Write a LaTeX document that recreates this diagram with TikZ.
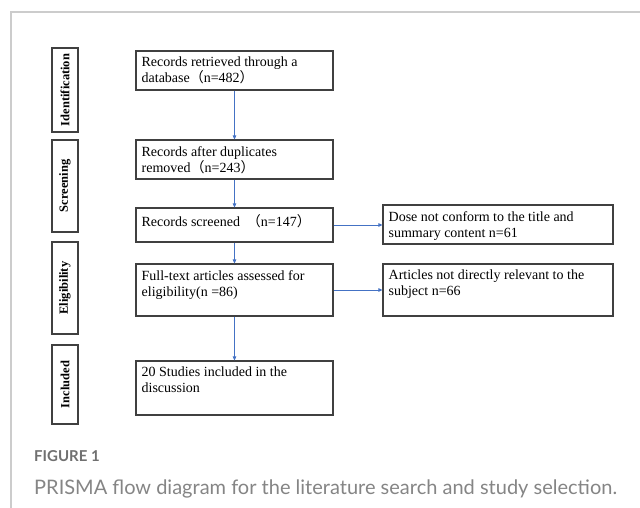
\documentclass[tikz,border=0pt]{standalone}
\usepackage{fontspec}
\setmainfont{Liberation Serif}
\newfontfamily\cjk{Noto Sans CJK SC}
\newfontfamily\capfont{Lato}
\usetikzlibrary{arrows.meta}
\definecolor{framegray}{HTML}{CCCCCC}
\definecolor{boxgray}{HTML}{404040}
\definecolor{arrowblue}{HTML}{4472C4}
\definecolor{figgray}{HTML}{707070}
\definecolor{capgray}{HTML}{858585}
\newcommand{\lp}{{\cjk （}}
\newcommand{\rp}{{\cjk ）}}
\begin{document}
\begin{tikzpicture}[x=1pt,y=-1pt,
  box/.style={draw=boxgray, line width=1.1pt, minimum width=197pt, inner sep=0pt},
  rbox/.style={box, minimum width=230pt},
  side/.style={draw=boxgray, line width=1.1pt, minimum width=26pt, inner sep=0pt},
  sidetxt/.style={rotate=90, font=\bfseries\fontsize{12.5}{14}\selectfont, inner sep=0pt},
  txt/.style={anchor=north west, inner sep=0pt, align=left, font=\fontsize{14}{16}\selectfont},
  arr/.style={draw=arrowblue, line width=0.8pt, -{Triangle[length=4pt,width=3.5pt]}}
]
\useasboundingbox (0,0) rectangle (640,508);
\fill[white] (0,0) rectangle (640,508);
% frame
\draw[framegray, line width=1.3pt] (11,508) -- (11,12) -- (640,12);

% side boxes
\node[side, minimum height=84pt] (s1) at (65,90) {};
\node[side, minimum height=92pt] (s2) at (65,186) {};
\node[side, minimum height=92pt] (s3) at (65,288) {};
\node[side, minimum height=79pt] (s4) at (65,384.5) {};
\node[sidetxt] (s1t) at (s1.center) {Identification};
\node[sidetxt] (s2t) at (s2.center) {Screening};
\node[sidetxt] (s3t) at (s3.center) {Eligibility};
\node[sidetxt] (s4t) at (s4.center) {Included};

% main boxes
\node[box, minimum height=39pt] (b1) at (234.5,70.5) {};
\node[box, minimum height=39pt] (b2) at (234.5,159.5) {};
\node[box, minimum height=34pt] (b3) at (234.5,225) {};
\node[box, minimum height=52pt] (b4) at (234.5,290) {};
\node[box, minimum height=54pt] (b5) at (234.5,388) {};
\node[rbox, minimum height=39pt] (r1) at (498,224.5) {};
\node[rbox, minimum height=52pt] (r2) at (498,290) {};

\node[txt] (b1t) at ([xshift=6pt,yshift=-6.5pt]b1.north west) {Records retrieved through a\\database\lp n=482\rp};
\node[txt] (b2t) at ([xshift=6pt,yshift=-6.5pt]b2.north west) {Records after duplicates\\removed\lp n=243\rp};
\node[txt] (b3t) at ([xshift=6pt,yshift=-6.5pt]b3.north west) {Records screened\hspace{0.5em}\lp n=147\rp};
\node[txt] (b4t) at ([xshift=6pt,yshift=-6.5pt]b4.north west) {Full-text articles assessed for\\eligibility(n =86)};
\node[txt] (b5t) at ([xshift=6pt,yshift=-6.5pt]b5.north west) {20 Studies included in the\\discussion};
\node[txt] (r1t) at ([xshift=6pt,yshift=-6.5pt]r1.north west) {Dose not conform to the title and\\summary content n=61};
\node[txt] (r2t) at ([xshift=6pt,yshift=-6.5pt]r2.north west) {Articles not directly relevant to the\\subject n=66};

% arrows
\draw[arr] (b1.south) -- (b2.north);
\draw[arr] (b2.south) -- (b3.north);
\draw[arr] (b3.south) -- (b4.north);
\draw[arr] (b4.south) -- (b5.north);
\draw[arr] (b3.east) -- (b3.east -| r1.west);
\draw[arr] (b4.east) -- (b4.east -| r2.west);

% caption
\node[anchor=base west, inner sep=0pt, text=figgray, font=\capfont\bfseries\fontsize{15}{18}\selectfont] (fig) at (34,461) {FIGURE 1};
\node[anchor=base west, inner sep=0pt, text=capgray, font=\capfont\fontsize{20}{24}\selectfont] (cap) at (34,494) {PRISMA flow diagram for the literature search and study selection.};
\end{tikzpicture}
\end{document}
